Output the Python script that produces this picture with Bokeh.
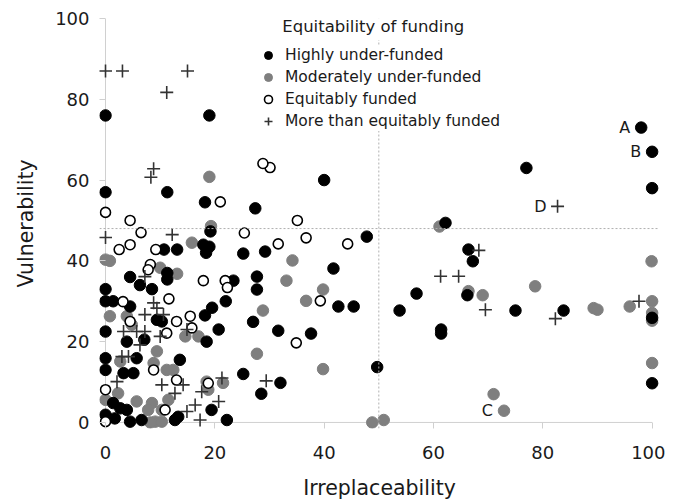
from bokeh.plotting import figure
from bokeh.models import (Range1d, FixedTicker, Span, Legend, LegendItem, Label)
from bokeh.embed import file_html
from bokeh.resources import INLINE

# ---------------- data ----------------
X_TICKS = [0, 20, 40, 60, 80, 100]
Y_TICKS = [0, 20, 40, 60, 80, 100]
X_THRESHOLD = 50
Y_THRESHOLD = 48

high_x = [0, 19, 98, 100, 100, 77, 40, 0, 11.3, 18.2, 27.4, 19.2, 10.7, 13.1, 17.9, 19, 18.4,
          4.5, 6.3, 11.3, 11.3, 8.5, 0, 0, 1.4, 4.5, 22, 19.5, 9.4, 10.3, 0, 3.9, 7.1, 20.7,
          18.5, 0, 5.7, 13.6, 0, 3.3, 5.1, 1.4, 2.7, 3.9, 0, 1.7, 4.5, 6.6, 12.7, 13.3, 19.4,
          22.2, 25.2, 29.2, 41.7, 23.4, 27.7, 27.7, 27, 31.6, 37.6, 25.2, 32, 28.5, 42.6, 45.4,
          47.8, 62.2, 66.4, 67.2, 66.2, 53.8, 56.9, 75, 83.8, 100, 61.4, 61.4, 100, 49.7, 18.2]
high_y = [76, 76, 73, 67, 58, 63, 60, 57, 57, 54.5, 53, 47.3, 42.8, 42.8, 44, 43.5, 42,
          36, 34, 37, 35.4, 33, 33, 30, 30, 28.7, 30, 28.4, 25.4, 25, 22.5, 20, 20.5, 23,
          20, 15.9, 15.9, 15.5, 13, 12.2, 12.2, 4.8, 3.5, 3.1, 1.9, 1, 0.2, 0.6, 0.6, 1.4, 3.1,
          0.6, 41.8, 42.3, 38.1, 35.1, 36.1, 32.9, 24.9, 22.7, 22, 12, 9.8, 7.1, 28.7, 28.7,
          46, 49.4, 42.8, 39.9, 31.5, 27.7, 31.9, 27.7, 27.7, 25.9, 23, 22, 9.7, 13.7, 26.5]

mod_x = [19, 19.3, 0, 0.8, 15.8, 10, 13.1, 34.2, 33.1, 36.7, 39.8, 28.8, 27.7, 39.8, 21.5,
         0.8, 3.9, 4.8, 9.4, 14.6, 17, 2.7, 8.8, 11.2, 12.4, 2.3, 0, 5.7, 8.5, 7.8, 10.3,
         11.5, 9.1, 10.3, 8.2, 18.5, 18.8, 61.1, 66.4, 69, 78.6, 99.9, 89.3, 90, 95.9, 100,
         100, 100, 100, 71, 72.9, 48.8, 50.9]
mod_y = [60.8, 48.6, 40.3, 40, 44.5, 38.3, 36.8, 40.1, 35.1, 30.1, 32.9, 27.7, 17, 13.2, 9.8,
         26.3, 26.3, 24.2, 17.6, 21.3, 21.3, 15.1, 14.7, 13, 13, 7.2, 5.6, 5.2, 4.8, 3.1, 3.1,
         5.6, 0.2, 0.2, 0, 10.1, 8.1, 48.5, 32.5, 31.5, 33.7, 39.9, 28.3, 27.9, 28.7, 30,
         27.1, 25.2, 14.7, 7, 2.9, 0, 0.6]

eq_x = [30.1, 28.8, 21, 35.1, 25.4, 31.6, 36.7, 44.3, 21.9, 22.3, 39.3, 34.9, 0, 4.5, 6.5,
        2.5, 4.5, 9.2, 8.2, 7.8, 17.9, 11.6, 3.2, 4.5, 13, 15.5, 11.2, 15.8, 0, 8.8, 13,
        18.8, 10.9, 0]
eq_y = [63.1, 64.1, 54.6, 50, 46.9, 44.2, 45.7, 44.2, 35.1, 33.4, 30.1, 19.7, 52, 50, 47,
        42.8, 44, 42.8, 39.1, 37.8, 35.1, 30.6, 29.9, 25, 25, 26.3, 22.1, 23.4, 8.1, 13, 10.5,
        9.7, 3.1, 0.2]

more_x = [0, 3.1, 15, 11.2, 8.8, 8.3, 0, 12.2, 7.2, 8.8, 9.4, 7.2, 10.6, 3.3, 5.7, 7.2, 10,
          6.3, 14.9, 3, 4.2, 2.1, 10.3, 14.2, 12.7, 17.6, 20.7, 16.4, 14.9, 17.3, 21.3, 29.4,
          82.7, 68.3, 61.3, 64.6, 69.5, 82.3, 97.6]
more_y = [87, 87, 87, 81.7, 62.8, 60.7, 45.8, 46.5, 36.1, 29.6, 28.3, 26.7, 26.7, 22.5, 22.5,
          22.5, 21.3, 19.2, 23, 16.3, 16.3, 10.1, 9.3, 9.3, 7.2, 7.6, 5.2, 4.3, 2.7, 0.6, 11,
          10.3, 53.5, 42.6, 36.2, 36.2, 27.9, 25.7, 30]

# point annotations
annot_text = ["A", "B", "C", "D"]
annot_x = [98, 100, 72.9, 82.7]
annot_y = [73, 67, 2.9, 53.5]

LEGEND_TITLE = "Equitability of funding"
SERIES_NAMES = ["Highly under-funded", "Moderately under-funded",
                "Equitably funded", "More than equitably funded"]

FONT = "DejaVu Sans"
TXT = "#1a1a1a"
AXIS_GREY = "#d0d0d0"

p = figure(frame_width=560, frame_height=410, output_backend="svg", toolbar_location=None,
           x_range=Range1d(-1.1, 101.35), y_range=Range1d(-1.5, 100),
           min_border_left=99, min_border_right=6, min_border_top=18, min_border_bottom=0)
p.outline_line_color = None
p.grid.visible = False
p.background_fill_color = "white"
p.border_fill_color = "white"

for ax, ticks in ((p.xaxis[0], X_TICKS), (p.yaxis[0], Y_TICKS)):
    ax.ticker = FixedTicker(ticks=ticks)
    ax.axis_line_color = None
    ax.major_tick_in = 6
    ax.major_tick_out = 0
    ax.major_tick_line_color = AXIS_GREY
    ax.minor_tick_line_color = None
    ax.major_label_text_font = FONT
    ax.major_label_text_font_size = "18px"
    ax.major_label_text_color = TXT
    ax.axis_label_text_font = FONT
    ax.axis_label_text_font_size = "20.5px"
    ax.axis_label_text_font_style = "normal"
    ax.axis_label_text_color = TXT

p.xaxis.axis_label = "Irreplaceability"
p.yaxis.axis_label = "Vulnerability"
p.yaxis.major_label_standoff = 10
p.xaxis.major_label_standoff = 17
p.yaxis.axis_label_standoff = 14
p.xaxis.axis_label_standoff = 14

# axis lines through zero
p.segment(x0=[X_TICKS[0]], y0=[Y_TICKS[0]], x1=[X_TICKS[-1]], y1=[Y_TICKS[0]],
          line_color=AXIS_GREY, line_width=1)
p.segment(x0=[X_TICKS[0]], y0=[Y_TICKS[0]], x1=[X_TICKS[0]], y1=[Y_TICKS[-1]],
          line_color=AXIS_GREY, line_width=1)

# threshold lines
p.add_layout(Span(location=X_THRESHOLD, dimension="height", line_color="#b0b0b0",
                  line_dash="2 2", line_width=1))
p.add_layout(Span(location=Y_THRESHOLD, dimension="width", line_color="#b0b0b0",
                  line_dash="2 2", line_width=1))

r_mod = p.scatter(mod_x, mod_y, marker="circle", size=11.5,
                  fill_color="#7f7f7f", line_color="#7f7f7f")
r_high = p.scatter(high_x, high_y, marker="circle", size=11.5,
                   fill_color="black", line_color="black")
r_eq = p.scatter(eq_x, eq_y, marker="circle", size=10,
                 fill_color="white", line_color="black", line_width=1.6)
r_more = p.scatter(more_x, more_y, marker="cross", size=13,
                   line_color="#333333", line_width=1.6)

for t, ax_, ay_ in zip(annot_text, annot_x, annot_y):
    p.add_layout(Label(x=ax_, y=ay_, text=t, x_offset=-11, text_align="right",
                       text_baseline="middle", text_font=FONT, text_font_size="16px",
                       text_color=TXT))

legend = Legend(items=[LegendItem(label=SERIES_NAMES[0], renderers=[r_high]),
                       LegendItem(label=SERIES_NAMES[1], renderers=[r_mod]),
                       LegendItem(label=SERIES_NAMES[2], renderers=[r_eq]),
                       LegendItem(label=SERIES_NAMES[3], renderers=[r_more])],
                location=(158, 297), padding=4, margin=0, spacing=2,
                glyph_width=22, glyph_height=20, label_height=20, label_standoff=6,
                label_text_font=FONT, label_text_font_size="15.5px",
                label_text_color=TXT, border_line_color=None,
                background_fill_color="white", background_fill_alpha=1.0)
p.add_layout(legend)

p.add_layout(Label(x=31.6, y=98.0, text=LEGEND_TITLE, text_align="left",
                   text_baseline="middle", text_font=FONT, text_font_size="16.5px",
                   text_color=TXT, background_fill_color="white", padding=4))

open("out.html", "w").write(file_html(p, INLINE))
